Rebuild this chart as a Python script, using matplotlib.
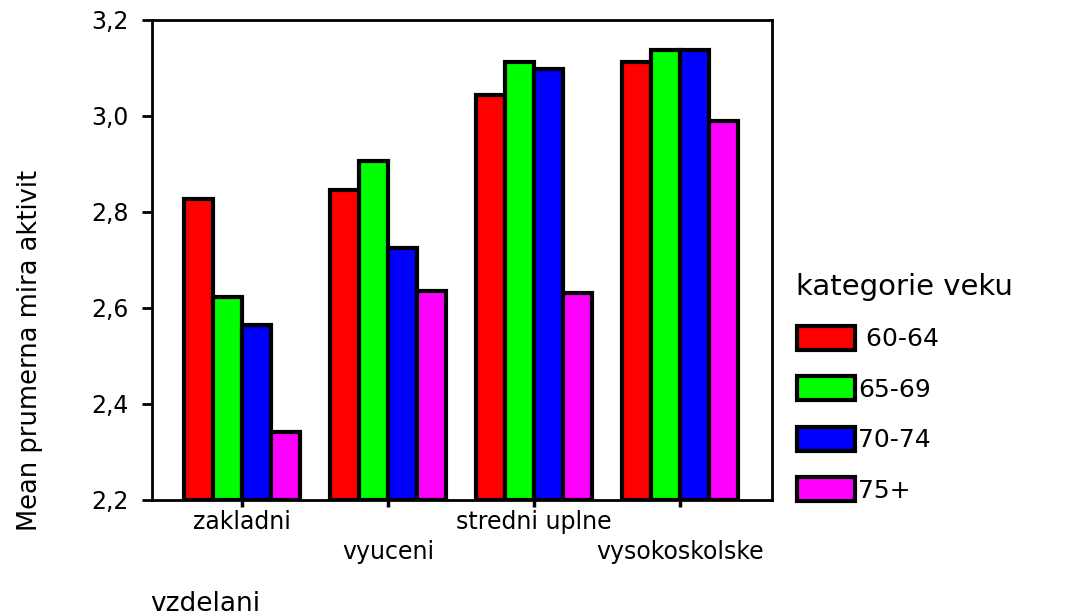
import numpy as np
import matplotlib
matplotlib.use("Agg")
import matplotlib.pyplot as plt
from matplotlib.patches import Patch
from matplotlib.ticker import FuncFormatter

# ----------------------------------------------------------------------
# data

categories = ["zakladni", "vyuceni", "stredni uplne", "vysokoskolske"]
age_groups = [" 60-64", "65-69", "70-74", "75+"]
colors = ["#ff0000", "#00ff00", "#0000ff", "#ff00ff"]

mean_60_64 = [2.828, 2.845, 3.044, 3.113]
mean_65_69 = [2.623, 2.906, 3.113, 3.138]
mean_70_74 = [2.564, 2.724, 3.098, 3.138]
mean_75 = [2.342, 2.636, 2.631, 2.990]
series = [mean_60_64, mean_65_69, mean_70_74, mean_75]

yticks = [2.2, 2.4, 2.6, 2.8, 3.0, 3.2]

# ----------------------------------------------------------------------

plt.rcParams["font.family"] = ["DejaVu Sans"]

fig = plt.figure(figsize=(10.69, 6.16), dpi=100)
ax = fig.add_axes([152 / 1069, 1 - 500 / 616, 620 / 1069, 480 / 616])

x = np.arange(len(categories))
width = 0.2
for k, (vals, col) in enumerate(zip(series, colors)):
    ax.bar(x + (k - 1.5) * width, np.array(vals) - 2.2, bottom=2.2, width=width,
           color=col, edgecolor="black", linewidth=3, zorder=2)

ax.set_xlim(-0.616, 3.63)
ax.set_ylim(2.2, 3.2)
ax.set_yticks(yticks)
ax.yaxis.set_major_formatter(FuncFormatter(lambda v, p: f"{v:.1f}".replace(".", ",")))
ax.tick_params(axis="y", direction="out", length=7, width=2, labelsize=17, pad=10)

ax.set_xticks(x)
ax.set_xticklabels(categories, fontsize=17)
ax.tick_params(axis="x", direction="out", length=5, width=2.5, pad=2)
for i, t in enumerate(ax.xaxis.get_major_ticks()):
    if i % 2 == 1:
        t.set_pad(24)

for s in ax.spines.values():
    s.set_linewidth(2)

fig.text(30 / 1069, 1 - 350 / 616, "Mean prumerna mira aktivit", rotation=90,
         ha="center", va="center", fontsize=18.5)
fig.text(150 / 1069, 1 - 604 / 616, "vzdelani", ha="left", va="center", fontsize=19)

handles = [Patch(facecolor=c, edgecolor="black", linewidth=3) for c in colors]
leg = fig.legend(handles, age_groups, loc="upper left",
                 bbox_to_anchor=(774 / 1069, 1 - 250 / 616),
                 title="kategorie veku", title_fontsize=21, fontsize=18,
                 frameon=False, handlelength=2.35, handleheight=1.1,
                 handletextpad=0.1, labelspacing=1.0, alignment="left")

fig.savefig("out.png", dpi=100)
